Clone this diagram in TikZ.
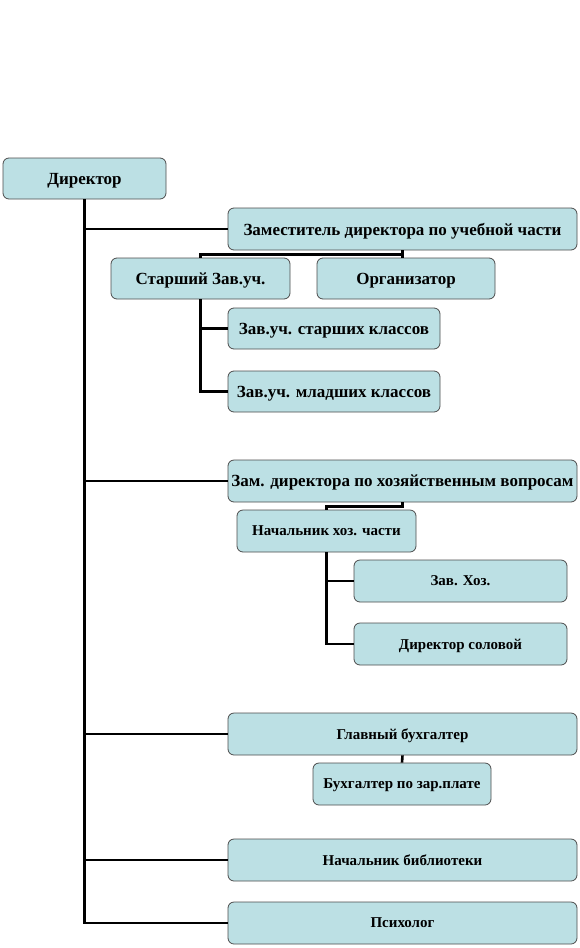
\documentclass[tikz,border=0pt]{standalone}
\usepackage{fontspec}
\setmainfont{Liberation Serif}
\usetikzlibrary{positioning}
\definecolor{boxfill}{RGB}{188,224,228}

\begin{document}
\begin{tikzpicture}[
  x=1pt, y=-1pt,
  font=\bfseries,
  box/.style={
    draw=black!70, line width=0.8pt, fill=boxfill, rounded corners=6pt,
    inner sep=0pt, align=center, text depth=0pt
  },
  big/.style={box, font=\fontsize{17}{19}\selectfont\bfseries},
  small/.style={box, font=\fontsize{15}{17}\selectfont\bfseries},
  link/.style={line width=2.6pt, black},
]
\useasboundingbox (0,0) rectangle (580,948);

% ---- head ---------------------------------------------------------------
\node[big, minimum width=163, minimum height=41] (dir) at (84.5,178.5) {Директор};

% ---- teaching branch ----------------------------------------------------
\node[big, minimum width=349, minimum height=42] (zam)  at (402.5,229) {Заместитель директора по учебной части};
\node[big, minimum width=179, minimum height=41] (star) at (200.5,278.5) {Старший Зав.уч.};
\node[big, minimum width=178, minimum height=41] (org)  at (406,278.5) {Организатор};
\node[big, minimum width=212, minimum height=41] (zs)   at (334,328.5) {Зав.уч. старших классов};
\node[big, minimum width=212, minimum height=41] (zm)   at (334,391.5) {Зав.уч. младших классов};

% ---- household branch ---------------------------------------------------
\node[big, minimum width=349, minimum height=42] (zamh) at (402.5,481) {Зам. директора по хозяйственным вопросам};
\node[small, minimum width=179, minimum height=42] (nach) at (326.5,531) {Начальник хоз. части};
\node[small, minimum width=213, minimum height=42] (zavh) at (460.5,581) {Зав. Хоз.};
\node[small, minimum width=213, minimum height=42] (stol) at (460.5,644) {Директор соловой};

% ---- accounting and others ----------------------------------------------
\node[small, minimum width=349, minimum height=42] (buh)  at (402.5,734) {Главный бухгалтер};
\node[small, minimum width=178, minimum height=42] (buhz) at (402,784) {Бухгалтер  по зар.плате};
\node[small, minimum width=349, minimum height=42] (lib)  at (402.5,860) {Начальник библиотеки};
\node[small, minimum width=349, minimum height=42] (psy)  at (402.5,923) {Психолог};

% ---- connectors ---------------------------------------------------------
\draw[link] (dir.south) |- (zam.west);
\draw[link] (dir.south) |- (zamh.west);
\draw[link] (dir.south) |- (buh.west);
\draw[link] (dir.south) |- (lib.west);
\draw[link] (dir.south) |- (psy.west);

\draw[link] (zam.south) -- ++(0,4) -| (star.north);
\draw[link] (zam.south) -- (zam.south |- org.north);
\draw[link] (star.south) |- (zs.west);
\draw[link] (star.south) |- (zm.west);

\draw[link] (zamh.south) -- ++(0,4) -| (nach.north);
\draw[link] (nach.south) |- (zavh.west);
\draw[link] (nach.south) |- (stol.west);

\draw[link] (buh.south) -- (buhz.north);

\end{tikzpicture}
\end{document}
